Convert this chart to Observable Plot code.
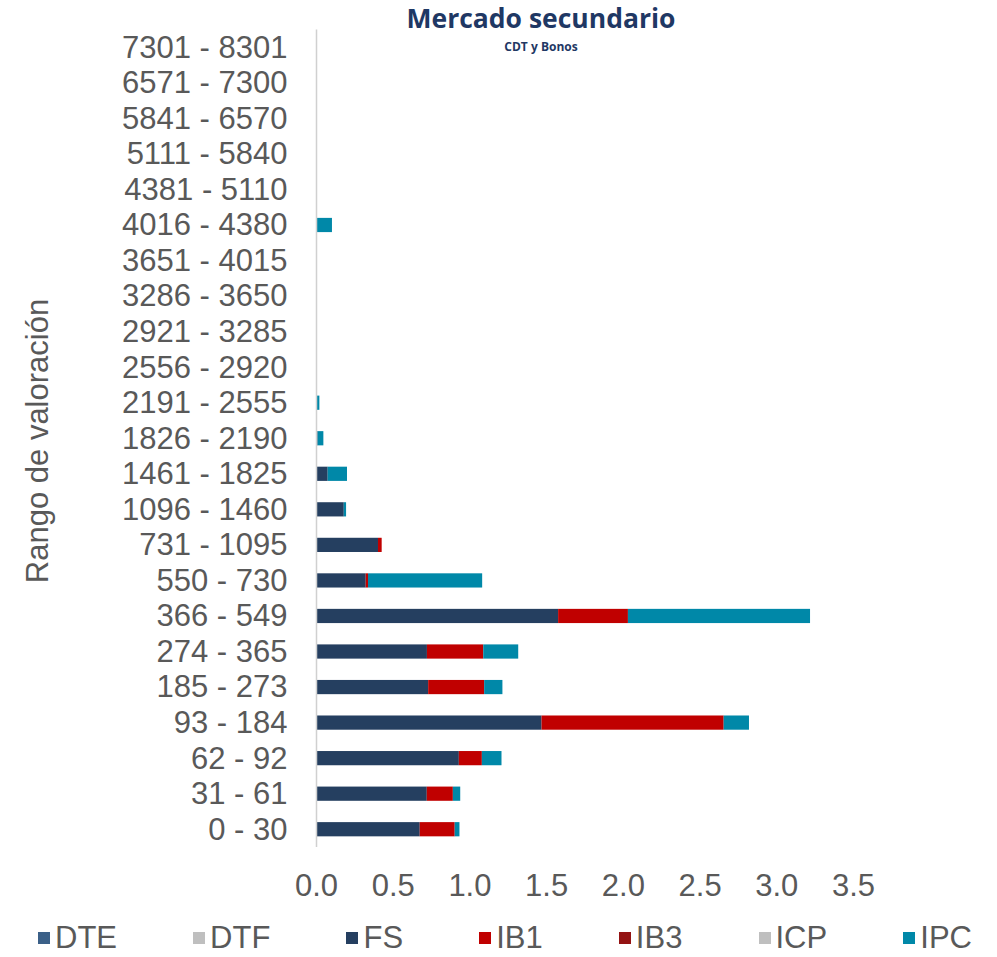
<!DOCTYPE html>
<html>
<head>
<meta charset="utf-8">
<script src="https://cdn.jsdelivr.net/npm/d3@7"></script>
<script src="https://cdn.jsdelivr.net/npm/@observablehq/plot@0.6"></script>
<style>
  body { margin: 0; background: #fff; }
  #wrap { position: relative; width: 997px; height: 957px; font-family: "Liberation Sans", Arial, sans-serif; color: #595959; }
  #title { position: absolute; top: 0px; left: 241px; width: 600px; text-align: center; font-family: "Open Sans", sans-serif; font-weight: 700; font-size: 26.5px; line-height: normal; color: #1f3864; }
  #subtitle { position: absolute; top: 40px; left: 341px; width: 400px; text-align: center; font-family: "Open Sans", sans-serif; font-weight: 700; font-size: 12px; line-height: 14px; color: #1f3864; }
  #ytitle { position: absolute; left: 37px; top: 441px; transform: translate(-50%, -50%) rotate(-90deg); white-space: nowrap; font-size: 31px; line-height: 1; color: #595959; }
  #chart { position: absolute; top: 0; left: 0; }
  #legend { position: absolute; top: 920px; left: 38px; width: 934px; height: 36px; display: flex; justify-content: space-between; align-items: center; font-size: 31px; color: #595959; }
  .item { display: flex; align-items: center; }
  .sw { width: 12px; height: 12px; margin-right: 5px; }
</style>
</head>
<body>
<div id="wrap">
  <div id="chart"></div>
  <div id="title">Mercado secundario</div>
  <div id="subtitle">CDT y Bonos</div>
  <div id="ytitle">Rango de valoración</div>
  <div id="legend"></div>
</div>
<script>
// Categories (bottom to top)
const categories = ["0 - 30","31 - 61","62 - 92","93 - 184","185 - 273","274 - 365","366 - 549","550 - 730","731 - 1095","1096 - 1460","1461 - 1825","1826 - 2190","2191 - 2555","2556 - 2920","2921 - 3285","3286 - 3650","3651 - 4015","4016 - 4380","4381 - 5110","5111 - 5840","5841 - 6570","6571 - 7300","7301 - 8301"];

const seriesNames = ["DTE","DTF","FS","IB1","IB3","ICP","IPC"];
const seriesColors = ["#3b6088","#bfbfbf","#253f60","#c00000","#941313","#bfbfbf","#0088a8"];

const DTE = [0,0,0,0,0,0,0,0,0,0,0,0,0,0,0,0,0,0,0,0,0,0,0];
const DTF = [0,0,0,0,0,0,0,0,0,0,0,0,0,0,0,0,0,0,0,0,0,0,0];
const FS  = [0.676,0.722,0.931,1.470,0.731,0.723,1.578,0.324,0.404,0.181,0.076,0.010,0,0,0,0,0,0,0,0,0,0,0];
const IB1 = [0.228,0.170,0.150,1.187,0.365,0.367,0.455,0.015,0.024,0,0,0,0,0,0,0,0,0,0,0,0,0,0];
const IB3 = [0,0,0,0,0,0,0,0,0,0,0,0,0,0,0,0,0,0,0,0,0,0,0];
const ICP = [0,0,0,0,0,0,0,0,0,0,0,0,0,0.006,0,0,0,0,0,0,0,0,0];
const IPC = [0.031,0.048,0.128,0.165,0.119,0.228,1.187,0.744,0,0.015,0.126,0.038,0.022,0,0,0,0,0.104,0,0,0,0,0];

const xTicks = [0, 0.5, 1, 1.5, 2, 2.5, 3, 3.5];

const seriesData = {DTE, DTF, FS, IB1, IB3, ICP, IPC};
const table = [];
for (const s of seriesNames) {
  seriesData[s].forEach((v, i) => {
    if (v > 0) table.push({category: categories[i], series: s, value: v});
  });
}

const chart = Plot.plot({
  width: 997,
  height: 957,
  marginLeft: 316,
  marginRight: 144,
  marginTop: 29.5,
  marginBottom: 110,
  style: {fontFamily: '"Liberation Sans", Arial, sans-serif', color: "#595959", background: "transparent", overflow: "visible"},
  x: {domain: [0, 3.5]},
  y: {domain: categories.slice().reverse(), paddingInner: 0.6, paddingOuter: 0.3, round: false},
  color: {domain: seriesNames, range: seriesColors},
  marks: [
    Plot.barX(table, Plot.stackX({y: "category", x: "value", fill: "series", order: seriesNames})),
    Plot.ruleX([0], {stroke: "#d0d0d0", strokeWidth: 1.5}),
    Plot.axisY({tickSize: 0, tickPadding: 29, fontSize: 31, label: null, fill: "#595959"}),
    Plot.axisX({ticks: xTicks, tickFormat: d3.format(".1f"), tickSize: 0, tickPadding: 26, fontSize: 31, label: null, fill: "#595959"})
  ]
});
document.getElementById("chart").appendChild(chart);

const legend = document.getElementById("legend");
seriesNames.forEach((s, i) => {
  const item = document.createElement("div");
  item.className = "item";
  const sw = document.createElement("span");
  sw.className = "sw";
  sw.style.background = seriesColors[i];
  const t = document.createElement("span");
  t.textContent = s;
  item.appendChild(sw);
  item.appendChild(t);
  legend.appendChild(item);
});
</script>
</body>
</html>
